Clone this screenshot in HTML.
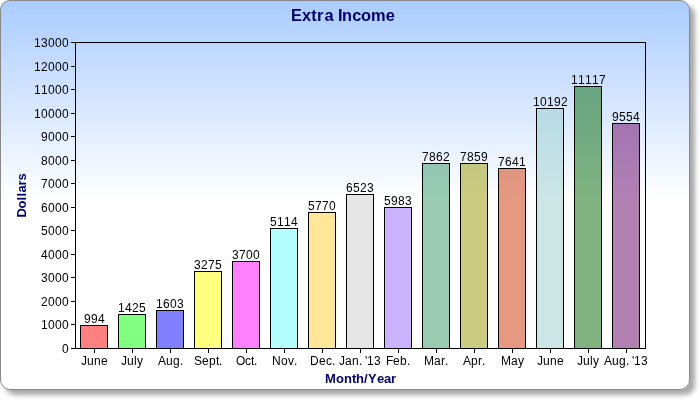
<!DOCTYPE html>
<html><head><meta charset="utf-8"><title>Extra Income</title><style>
html,body{margin:0;padding:0;background:#fff;width:700px;height:400px;overflow:hidden}
#frame{position:absolute;left:0;top:0;width:690px;height:390px;box-sizing:border-box;border:1px solid #888;border-radius:10px;
background:linear-gradient(to bottom,#aaccff 0px,#ffffff 200px);box-shadow:5px 5px 5px #a8a8a8}
svg{position:absolute;left:0;top:0;will-change:transform}
text{font-family:"Liberation Sans", Arial, sans-serif;fill:#000;font-kerning:none}
.n{font-size:12px}
.t{font-size:16.4px;font-weight:bold;fill:#000066}
.at{font-size:13px;font-weight:bold;fill:#000066}
</style></head><body>
<div id="frame"></div>
<svg width="700" height="400" viewBox="0 0 700 400">
<text x="291 302 311.2 317 324.6 333.5 338 342 352.3 361 371 385.8" y="21" class="t">Extra Income</text>
<rect x="80.5" y="325.5" width="27" height="23" fill="#ff0000" fill-opacity="0.498" stroke="#000" stroke-width="1"/>
<text x="84 91 98" y="323" class="n">994</text>
<rect x="118.5" y="314.5" width="27" height="34" fill="#00ff00" fill-opacity="0.498" stroke="#000" stroke-width="1"/>
<text x="118 125 132 139" y="312" class="n">1425</text>
<rect x="156.5" y="310.5" width="27" height="38" fill="#0000ff" fill-opacity="0.498" stroke="#000" stroke-width="1"/>
<text x="156 163 170 177" y="308" class="n">1603</text>
<rect x="194.5" y="271.5" width="27" height="77" fill="#ffff00" fill-opacity="0.498" stroke="#000" stroke-width="1"/>
<text x="194 201 208 215" y="269" class="n">3275</text>
<rect x="232.5" y="261.5" width="27" height="87" fill="#ff00ff" fill-opacity="0.498" stroke="#000" stroke-width="1"/>
<text x="232 239 246 253" y="259" class="n">3700</text>
<rect x="270.5" y="228.5" width="27" height="120" fill="#66ffff" fill-opacity="0.498" stroke="#000" stroke-width="1"/>
<text x="270 277 284 291" y="226" class="n">5114</text>
<rect x="308.5" y="212.5" width="27" height="136" fill="#ffcc33" fill-opacity="0.498" stroke="#000" stroke-width="1"/>
<text x="308 315 322 329" y="210" class="n">5770</text>
<rect x="346.5" y="194.5" width="27" height="154" fill="#cccccc" fill-opacity="0.498" stroke="#000" stroke-width="1"/>
<text x="346 353 360 367" y="192" class="n">6523</text>
<rect x="384.5" y="207.5" width="27" height="141" fill="#9966ff" fill-opacity="0.498" stroke="#000" stroke-width="1"/>
<text x="384 391 398 405" y="205" class="n">5983</text>
<rect x="422.5" y="163.5" width="27" height="185" fill="#339966" fill-opacity="0.498" stroke="#000" stroke-width="1"/>
<text x="422 429 436 443" y="161" class="n">7862</text>
<rect x="460.5" y="163.5" width="27" height="185" fill="#999900" fill-opacity="0.498" stroke="#000" stroke-width="1"/>
<text x="460 467 474 481" y="161" class="n">7859</text>
<rect x="498.5" y="168.5" width="27" height="180" fill="#cc3300" fill-opacity="0.498" stroke="#000" stroke-width="1"/>
<text x="498 505 512 519" y="166" class="n">7641</text>
<rect x="536.5" y="108.5" width="27" height="240" fill="#99cccc" fill-opacity="0.498" stroke="#000" stroke-width="1"/>
<text x="533 540 547 554 561" y="106" class="n">10192</text>
<rect x="574.5" y="86.5" width="27" height="262" fill="#006600" fill-opacity="0.498" stroke="#000" stroke-width="1"/>
<text x="571 578 585 592 599" y="84" class="n">11117</text>
<rect x="612.5" y="123.5" width="27" height="225" fill="#660066" fill-opacity="0.498" stroke="#000" stroke-width="1"/>
<text x="612 619 626 633" y="121" class="n">9554</text>
<rect x="75.5" y="42.5" width="570" height="306" fill="none" stroke="#000" stroke-width="1"/>
<line x1="71" y1="348.5" x2="75" y2="348.5" stroke="#000" stroke-width="1"/>
<text x="62" y="353" class="n">0</text>
<line x1="71" y1="324.5" x2="75" y2="324.5" stroke="#000" stroke-width="1"/>
<text x="41 48 55 62" y="329" class="n">1000</text>
<line x1="71" y1="301.5" x2="75" y2="301.5" stroke="#000" stroke-width="1"/>
<text x="41 48 55 62" y="306" class="n">2000</text>
<line x1="71" y1="277.5" x2="75" y2="277.5" stroke="#000" stroke-width="1"/>
<text x="41 48 55 62" y="282" class="n">3000</text>
<line x1="71" y1="254.5" x2="75" y2="254.5" stroke="#000" stroke-width="1"/>
<text x="41 48 55 62" y="259" class="n">4000</text>
<line x1="71" y1="230.5" x2="75" y2="230.5" stroke="#000" stroke-width="1"/>
<text x="41 48 55 62" y="235" class="n">5000</text>
<line x1="71" y1="207.5" x2="75" y2="207.5" stroke="#000" stroke-width="1"/>
<text x="41 48 55 62" y="212" class="n">6000</text>
<line x1="71" y1="183.5" x2="75" y2="183.5" stroke="#000" stroke-width="1"/>
<text x="41 48 55 62" y="188" class="n">7000</text>
<line x1="71" y1="160.5" x2="75" y2="160.5" stroke="#000" stroke-width="1"/>
<text x="41 48 55 62" y="165" class="n">8000</text>
<line x1="71" y1="136.5" x2="75" y2="136.5" stroke="#000" stroke-width="1"/>
<text x="41 48 55 62" y="141" class="n">9000</text>
<line x1="71" y1="113.5" x2="75" y2="113.5" stroke="#000" stroke-width="1"/>
<text x="34 41 48 55 62" y="118" class="n">10000</text>
<line x1="71" y1="89.5" x2="75" y2="89.5" stroke="#000" stroke-width="1"/>
<text x="34 41 48 55 62" y="94" class="n">11000</text>
<line x1="71" y1="66.5" x2="75" y2="66.5" stroke="#000" stroke-width="1"/>
<text x="34 41 48 55 62" y="71" class="n">12000</text>
<line x1="71" y1="42.5" x2="75" y2="42.5" stroke="#000" stroke-width="1"/>
<text x="34 41 48 55 62" y="47" class="n">13000</text>
<line x1="94.5" y1="348" x2="94.5" y2="353" stroke="#000" stroke-width="1"/>
<text x="81 87 94 101" y="365" class="n">June</text>
<line x1="132.5" y1="348" x2="132.5" y2="353" stroke="#000" stroke-width="1"/>
<text x="121 127 134 137" y="365" class="n">July</text>
<line x1="170.5" y1="348" x2="170.5" y2="353" stroke="#000" stroke-width="1"/>
<text x="158 166 173 180" y="365" class="n">Aug.</text>
<line x1="208.5" y1="348" x2="208.5" y2="353" stroke="#000" stroke-width="1"/>
<text x="194 202 209 216 219" y="365" class="n">Sept.</text>
<line x1="246.5" y1="348" x2="246.5" y2="353" stroke="#000" stroke-width="1"/>
<text x="236 245 251 254" y="365" class="n">Oct.</text>
<line x1="284.5" y1="348" x2="284.5" y2="353" stroke="#000" stroke-width="1"/>
<text x="272 281 288 294" y="365" class="n">Nov.</text>
<line x1="322.5" y1="348" x2="322.5" y2="353" stroke="#000" stroke-width="1"/>
<text x="310 319 326 332" y="365" class="n">Dec.</text>
<line x1="360.5" y1="348" x2="360.5" y2="353" stroke="#000" stroke-width="1"/>
<text x="339 345 352 359 362 365 367 374" y="365" class="n">Jan. &#39;13</text>
<line x1="398.5" y1="348" x2="398.5" y2="353" stroke="#000" stroke-width="1"/>
<text x="386 393 400 407" y="365" class="n">Feb.</text>
<line x1="436.5" y1="348" x2="436.5" y2="353" stroke="#000" stroke-width="1"/>
<text x="424 434 441 445" y="365" class="n">Mar.</text>
<line x1="474.5" y1="348" x2="474.5" y2="353" stroke="#000" stroke-width="1"/>
<text x="463 471 478 482" y="365" class="n">Apr.</text>
<line x1="512.5" y1="348" x2="512.5" y2="353" stroke="#000" stroke-width="1"/>
<text x="501 511 518" y="365" class="n">May</text>
<line x1="550.5" y1="348" x2="550.5" y2="353" stroke="#000" stroke-width="1"/>
<text x="537 543 550 557" y="365" class="n">June</text>
<line x1="588.5" y1="348" x2="588.5" y2="353" stroke="#000" stroke-width="1"/>
<text x="577 583 590 593" y="365" class="n">July</text>
<line x1="626.5" y1="348" x2="626.5" y2="353" stroke="#000" stroke-width="1"/>
<text x="604 612 619 626 629 632 634 641" y="365" class="n">Aug. &#39;13</text>
<text x="325 336 344 352 356 364 368 377 384 391" y="383" class="at">Month/Year</text>
<text transform="translate(26,195.5) rotate(-90)" x="-22 -13 -5 -1 3 10 15" y="0" class="at">Dollars</text>
</svg>
</body></html>
